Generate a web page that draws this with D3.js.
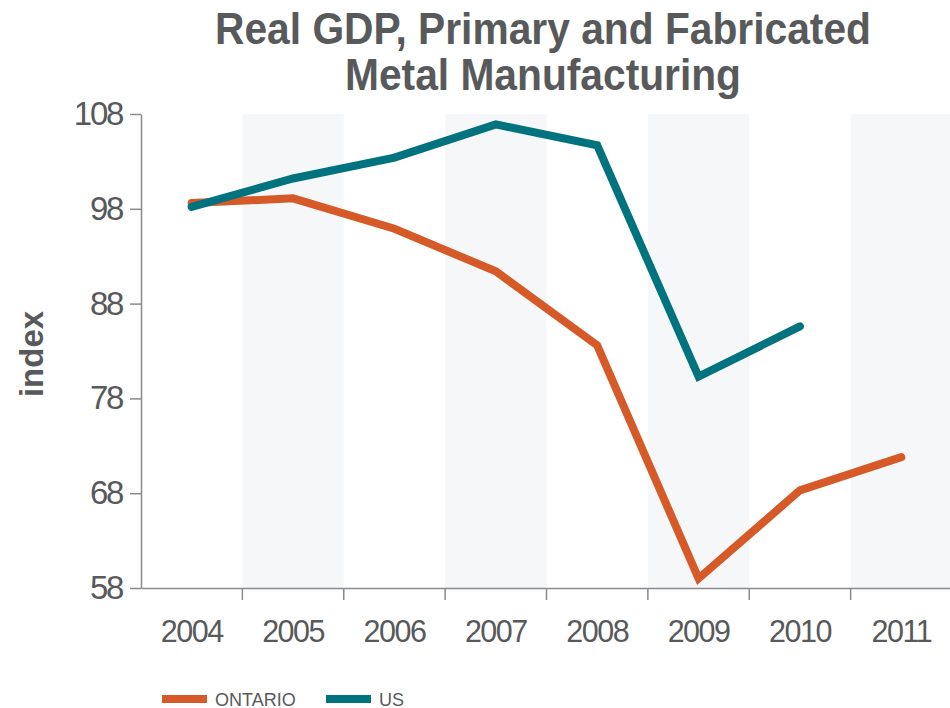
<!DOCTYPE html>
<html>
<head>
<meta charset="utf-8">
<script src="https://cdn.jsdelivr.net/npm/d3@7"></script>
<style>
  html, body { margin: 0; padding: 0; background: #fff; }
  svg { display: block; font-family: "Liberation Sans", Arial, Helvetica, sans-serif; }
</style>
</head>
<body>
<svg id="chart" width="950" height="708"></svg>
<script>
// Index values by year (Ontario vs. US), primary and fabricated metal manufacturing
const years = ["2004", "2005", "2006", "2007", "2008", "2009", "2010", "2011"];
const ontario = [98.6, 99.1, 95.9, 91.4, 83.6, 59.0, 68.3, 71.8];
const us = [98.2, 101.2, 103.4, 106.9, 104.7, 80.3, 85.6, null];
const yTicks = [58, 68, 78, 88, 98, 108];
const seriesNames = ["ONTARIO", "US"];
const seriesColors = ["#d65a27", "#00737f"];
const titleLines = ["Real GDP, Primary and Fabricated", "Metal Manufacturing"];

(function draw() {
  const svg = d3.select("#chart");
  const textColor = "#58595b";
  const axisColor = "#8a8a8a";

  const plotLeft = 141, plotRight = 952, plotTop = 114, plotBottom = 588;

  const x = d3.scaleBand().domain(years).range([plotLeft, plotRight]).padding(0);
  const y = d3.scaleLinear().domain([58, 108]).range([plotBottom, plotTop]);

  // Alternating shaded year columns
  svg.append("g")
    .selectAll("rect")
    .data(years.filter((d, i) => i % 2 === 1))
    .join("rect")
    .attr("x", d => x(d))
    .attr("y", y(108))
    .attr("width", x.bandwidth())
    .attr("height", y(58) - y(108))
    .attr("fill", "#f5f7f9");

  // Title
  svg.append("g")
    .selectAll("text")
    .data(titleLines)
    .join("text")
    .attr("x", 543)
    .attr("y", (d, i) => 44 + i * 46)
    .attr("text-anchor", "middle")
    .attr("font-size", 44)
    .attr("font-weight", "bold")
    .attr("fill", textColor)
    .attr("textLength", (d, i) => i === 0 ? 656 : 396)
    .attr("lengthAdjust", "spacingAndGlyphs")
    .text(d => d);

  // Y axis
  const yAxis = svg.append("g")
    .attr("transform", `translate(${plotLeft},0)`)
    .call(d3.axisLeft(y).tickValues(yTicks).tickSize(11).tickSizeOuter(0).tickPadding(8));
  yAxis.select(".domain").attr("stroke", axisColor).attr("stroke-width", 1.5);
  yAxis.selectAll(".tick line").attr("stroke", axisColor).attr("stroke-width", 1.5);
  yAxis.selectAll(".tick text")
    .attr("font-size", 33)
    .attr("letter-spacing", "-2.3px")
    .attr("fill", textColor)
    .attr("font-family", "'Liberation Sans', Arial, sans-serif");

  // Y axis title
  svg.append("text")
    .attr("transform", "translate(43,354) rotate(-90)")
    .attr("text-anchor", "middle")
    .attr("font-size", 33)
    .attr("font-weight", "bold")
    .attr("fill", textColor)
    .text("index");

  // X axis: labels centred in each year column, ticks on column boundaries
  const xAxis = svg.append("g")
    .attr("transform", `translate(0,${plotBottom})`)
    .call(d3.axisBottom(x).tickSize(0).tickPadding(32));
  xAxis.select(".domain").attr("stroke", axisColor).attr("stroke-width", 1.5);
  xAxis.selectAll(".tick text")
    .attr("font-size", 30.5)
    .attr("letter-spacing", "-1.5px")
    .attr("fill", textColor)
    .attr("font-family", "'Liberation Sans', Arial, sans-serif");
  xAxis.append("g")
    .selectAll("line")
    .data(years.slice(1))
    .join("line")
    .attr("x1", d => x(d))
    .attr("x2", d => x(d))
    .attr("y1", 0)
    .attr("y2", 12)
    .attr("stroke", axisColor)
    .attr("stroke-width", 1.5);

  // Series lines
  const line = d3.line()
    .defined(d => d.v != null)
    .x(d => x(d.year) + x.bandwidth() / 2)
    .y(d => y(d.v));

  [ontario, us].forEach((vals, i) => {
    svg.append("path")
      .datum(years.map((yr, j) => ({ year: yr, v: vals[j] })))
      .attr("d", line)
      .attr("fill", "none")
      .attr("stroke", seriesColors[i])
      .attr("stroke-width", 8)
      .attr("stroke-linecap", "round")
      .attr("stroke-linejoin", "miter");
  });

  // Legend
  const legendX = [162, 326];
  const legend = svg.append("g")
    .selectAll("g")
    .data(seriesNames)
    .join("g")
    .attr("transform", (d, i) => `translate(${legendX[i]},699)`);
  legend.append("rect")
    .attr("x", 0).attr("y", -4)
    .attr("width", 45).attr("height", 8)
    .attr("fill", (d, i) => seriesColors[i]);
  legend.append("text")
    .attr("x", 53).attr("y", 6.5)
    .attr("font-size", 18)
    .attr("fill", textColor)
    .text(d => d);
})();
</script>
</body>
</html>
